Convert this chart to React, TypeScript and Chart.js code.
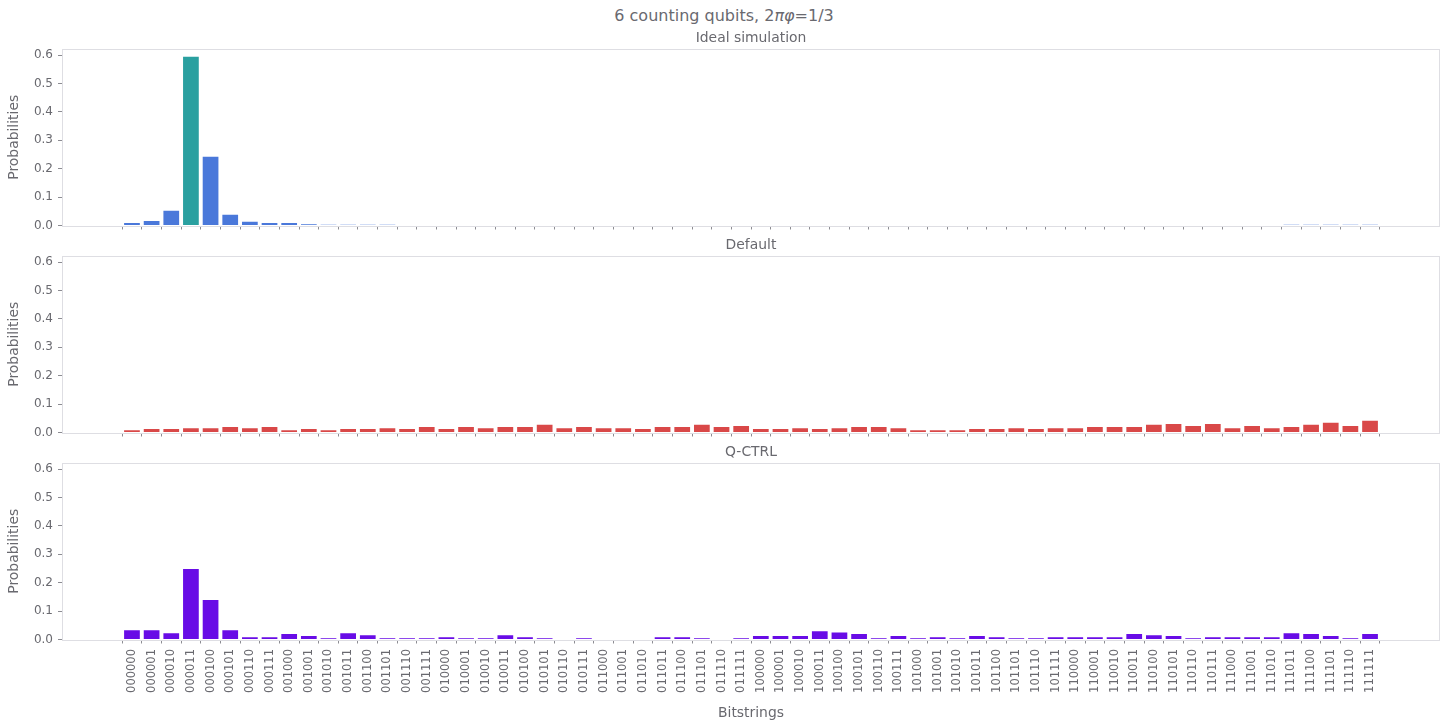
import React, { useEffect, useRef } from "react";
import { Chart, registerables } from "chart.js";

Chart.register(...registerables);

const bitstrings = [
  "000000", "000001", "000010", "000011", "000100", "000101", "000110", "000111",
  "001000", "001001", "001010", "001011", "001100", "001101", "001110", "001111",
  "010000", "010001", "010010", "010011", "010100", "010101", "010110", "010111",
  "011000", "011001", "011010", "011011", "011100", "011101", "011110", "011111",
  "100000", "100001", "100010", "100011", "100100", "100101", "100110", "100111",
  "101000", "101001", "101010", "101011", "101100", "101101", "101110", "101111",
  "110000", "110001", "110010", "110011", "110100", "110101", "110110", "110111",
  "111000", "111001", "111010", "111011", "111100", "111101", "111110", "111111",
];

const idealValues = [
  0.009, 0.016, 0.052, 0.594, 0.242, 0.038, 0.013, 0.009,
  0.009, 0.004, 0.003, 0.003, 0.003, 0.003, 0, 0,
  0, 0, 0, 0, 0, 0, 0, 0,
  0, 0, 0, 0, 0, 0, 0, 0,
  0, 0, 0, 0, 0, 0, 0, 0,
  0, 0, 0, 0, 0, 0, 0, 0,
  0, 0, 0, 0, 0, 0, 0, 0,
  0, 0, 0, 0.003, 0.003, 0.003, 0.003, 0.003,
];

const defaultValues = [
  0.008, 0.012, 0.012, 0.015, 0.015, 0.019, 0.015, 0.019,
  0.008, 0.012, 0.008, 0.012, 0.012, 0.015, 0.012, 0.019,
  0.012, 0.019, 0.015, 0.019, 0.019, 0.027, 0.015, 0.019,
  0.015, 0.015, 0.012, 0.019, 0.019, 0.027, 0.019, 0.023,
  0.012, 0.012, 0.015, 0.012, 0.015, 0.019, 0.019, 0.015,
  0.008, 0.008, 0.008, 0.012, 0.012, 0.015, 0.012, 0.015,
  0.015, 0.019, 0.019, 0.019, 0.027, 0.030, 0.023, 0.030,
  0.015, 0.023, 0.015, 0.019, 0.027, 0.034, 0.023, 0.041,
];

const qctrlValues = [
  0.033, 0.033, 0.022, 0.248, 0.139, 0.033, 0.008, 0.008,
  0.019, 0.012, 0.004, 0.022, 0.015, 0.004, 0.004, 0.004,
  0.008, 0.004, 0.004, 0.015, 0.008, 0.004, 0, 0.004,
  0, 0, 0, 0.008, 0.008, 0.004, 0, 0.004,
  0.012, 0.012, 0.012, 0.029, 0.025, 0.019, 0.004, 0.012,
  0.004, 0.008, 0.004, 0.012, 0.008, 0.004, 0.004, 0.008,
  0.008, 0.008, 0.008, 0.019, 0.015, 0.012, 0.004, 0.008,
  0.008, 0.008, 0.008, 0.022, 0.019, 0.012, 0.004, 0.019,
];

const yTicks = [0, 0.1, 0.2, 0.3, 0.4, 0.5, 0.6];
const peakLabel = "000011";

const TEXT = "#69696f";
const FONT = "'DejaVu Sans', sans-serif";
const BLUE = "#4a78da";
const TEAL = "#2aa0a0";
const RED = "#d94848";
const PURPLE = "#680ce6";

const framePlugin = {
  id: "frame",
  afterDraw(chart: any, _args: any, opts: any) {
    const { ctx, chartArea: a } = chart;
    ctx.save();
    ctx.strokeStyle = "#dedee3";
    ctx.lineWidth = 1;
    ctx.strokeRect(Math.round(a.left) + 0.5, Math.round(a.top) + 0.5, Math.round(a.right - a.left) - 1, Math.round(a.bottom - a.top));
    ctx.fillStyle = TEXT;
    ctx.font = `13.9px ${FONT}`;
    ctx.textAlign = "center";
    ctx.textBaseline = "middle";
    ctx.fillText(opts.title, (a.left + a.right) / 2, a.top - 10.5);
    ctx.restore();
  },
};

type PanelProps = {
  top: number;
  height: number;
  axisHeight: number;
  title: string;
  values: number[];
  colors: string | string[];
  showLabels: boolean;
};

function Panel({ top, height, axisHeight, title, values, colors, showLabels }: PanelProps) {
  const ref = useRef<HTMLCanvasElement | null>(null);
  useEffect(() => {
    if (!ref.current) return;
    const chart = new Chart(ref.current, {
      type: "bar",
      data: {
        datasets: [
          {
            data: values.map((v, i) => ({ x: i, y: v })),
            backgroundColor: colors as any,
            borderWidth: 0,
            barPercentage: 0.8,
            categoryPercentage: 1,
          },
        ],
      },
      options: {
        animation: false,
        responsive: false,
        devicePixelRatio: 1,
        layout: { autoPadding: false, padding: { top: 21, right: 8, left: 0, bottom: 0 } },
        plugins: {
          legend: { display: false },
          tooltip: { enabled: false },
          title: { display: false },
          frame: { title },
        } as any,
        scales: {
          x: {
            type: "linear",
            min: -3.56,
            max: 66.56,
            offset: false,
            afterBuildTicks: (s: any) => {
              s.ticks = bitstrings.map((_, i) => ({ value: i }));
            },
            afterFit: (s: any) => {
              s.height = axisHeight;
            },
            grid: {
              display: true,
              drawOnChartArea: false,
              drawTicks: true,
              tickLength: 4,
              color: "#8c8c92",
            },
            border: { display: false },
            ticks: {
              display: showLabels,
              autoSkip: false,
              maxRotation: 90,
              minRotation: 90,
              padding: 5.5,
              color: TEXT,
              font: { family: FONT, size: 11.5 },
              callback: (v: any) => bitstrings[v] ?? "",
            },
            title: {
              display: showLabels,
              text: "Bitstrings",
              color: TEXT,
              font: { family: FONT, size: 13.9 },
              padding: { top: 0, bottom: 6.7 },
            },
          },
          y: {
            min: 0,
            max: 0.6216,
            afterBuildTicks: (s: any) => {
              s.ticks = yTicks.map((v) => ({ value: v }));
            },
            afterFit: (s: any) => {
              s.width = 62;
            },
            grid: {
              display: true,
              drawOnChartArea: false,
              drawTicks: true,
              tickLength: 4,
              color: "#8c8c92",
            },
            border: { display: false },
            ticks: {
              padding: 5,
              color: TEXT,
              font: { family: FONT, size: 12 },
              callback: (v: any) => Number(v).toFixed(1),
            },
            title: {
              display: true,
              text: "Probabilities",
              color: TEXT,
              font: { family: FONT, size: 13.9 },
              padding: { top: 6, bottom: 0 },
            },
          },
        },
      } as any,
      plugins: [framePlugin as any],
    });
    return () => chart.destroy();
  }, []);
  return (
    <canvas
      ref={ref}
      width={1448}
      height={height}
      style={{ position: "absolute", left: 0, top, width: 1448, height, display: "block" }}
    />
  );
}

export default function App() {
  const idealColors = bitstrings.map((b) => (b === peakLabel ? TEAL : BLUE));
  return (
    <div style={{ position: "absolute", left: 0, top: 0, width: 1448, height: 728, background: "#fff", overflow: "hidden" }}>
      <div
        style={{
          position: "absolute",
          left: 0,
          top: 6,
          width: 1448,
          textAlign: "center",
          fontFamily: FONT,
          fontSize: 16,
          lineHeight: "20px",
          color: TEXT,
        }}
      >
        6 counting qubits, 2<i>πφ</i>=1/3
      </div>
      <Panel top={28} height={210} axisHeight={12.5} title="Ideal simulation" values={idealValues} colors={idealColors} showLabels={false} />
      <Panel top={235} height={210} axisHeight={12.5} title="Default" values={defaultValues} colors={RED} showLabels={false} />
      <Panel top={442} height={286} axisHeight={88.5} title="Q-CTRL" values={qctrlValues} colors={PURPLE} showLabels={true} />
    </div>
  );
}
